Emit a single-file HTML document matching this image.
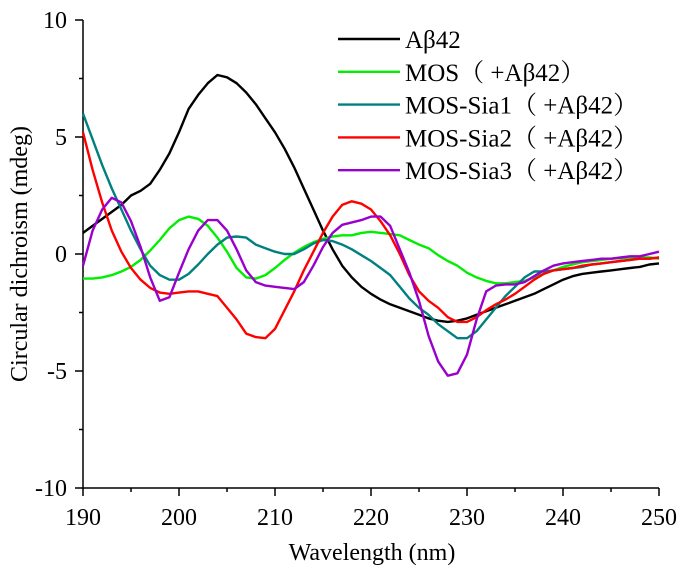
<!DOCTYPE html>
<html><head><meta charset="utf-8"><style>
body{margin:0;background:#fff}
svg text{font-family:"Liberation Serif","Noto Serif CJK SC",serif;fill:#000}
</style></head><body>
<svg id="c" width="686" height="578" xmlns="http://www.w3.org/2000/svg" font-family="'Liberation Serif', 'Noto Serif CJK SC', serif"></svg>
<script>
const wavelengths=[];for(let w=190;w<=250;w++)wavelengths.push(w);
const ab42=[0.9,1.2,1.5,1.8,2.1,2.5,2.7,3.0,3.6,4.3,5.2,6.2,6.8,7.3,7.65,7.55,7.3,6.9,6.4,5.8,5.2,4.5,3.7,2.8,1.9,1.0,0.2,-0.5,-1.0,-1.4,-1.7,-1.95,-2.15,-2.3,-2.45,-2.6,-2.75,-2.85,-2.9,-2.85,-2.75,-2.6,-2.45,-2.3,-2.15,-2.0,-1.85,-1.7,-1.5,-1.3,-1.1,-0.95,-0.85,-0.8,-0.75,-0.7,-0.65,-0.6,-0.55,-0.45,-0.4];
const mos=[-1.05,-1.05,-1.0,-0.9,-0.75,-0.55,-0.25,0.15,0.6,1.1,1.45,1.6,1.5,1.2,0.7,0.1,-0.6,-1.0,-1.05,-0.9,-0.6,-0.25,0.05,0.3,0.5,0.65,0.75,0.8,0.8,0.9,0.95,0.9,0.85,0.8,0.6,0.4,0.25,-0.05,-0.3,-0.5,-0.8,-1.0,-1.15,-1.25,-1.25,-1.2,-1.15,-1.0,-0.85,-0.7,-0.55,-0.45,-0.35,-0.3,-0.25,-0.2,-0.18,-0.15,-0.15,-0.15,-0.2];
const sia1=[6.0,4.9,3.8,2.8,1.9,1.0,0.2,-0.5,-0.9,-1.1,-1.1,-0.85,-0.45,0.0,0.4,0.7,0.75,0.7,0.4,0.25,0.1,0.0,0.0,0.2,0.45,0.6,0.55,0.4,0.2,-0.05,-0.3,-0.6,-0.9,-1.4,-1.9,-2.3,-2.6,-3.0,-3.3,-3.6,-3.6,-3.3,-2.8,-2.3,-1.8,-1.4,-1.0,-0.75,-0.75,-0.7,-0.65,-0.6,-0.55,-0.45,-0.4,-0.35,-0.3,-0.25,-0.2,-0.2,-0.15];
const sia2=[5.2,3.6,2.2,1.0,0.1,-0.6,-1.1,-1.45,-1.65,-1.7,-1.65,-1.6,-1.6,-1.7,-1.8,-2.3,-2.8,-3.4,-3.55,-3.6,-3.2,-2.4,-1.6,-0.7,0.1,0.9,1.6,2.1,2.25,2.15,1.9,1.4,0.8,0.0,-0.9,-1.6,-2.0,-2.3,-2.7,-2.9,-2.9,-2.7,-2.4,-2.15,-1.95,-1.7,-1.4,-1.1,-0.85,-0.7,-0.65,-0.6,-0.5,-0.45,-0.4,-0.35,-0.3,-0.25,-0.2,-0.2,-0.15];
const sia3=[-0.5,1.0,1.9,2.4,2.2,1.4,0.3,-1.0,-2.0,-1.85,-0.8,0.2,1.0,1.45,1.45,1.0,0.2,-0.7,-1.2,-1.35,-1.4,-1.45,-1.5,-1.2,-0.5,0.3,0.9,1.25,1.35,1.45,1.6,1.6,1.2,0.2,-0.8,-2.0,-3.5,-4.6,-5.2,-5.1,-4.3,-2.8,-1.6,-1.35,-1.3,-1.3,-1.2,-0.95,-0.7,-0.5,-0.4,-0.35,-0.3,-0.25,-0.2,-0.2,-0.15,-0.1,-0.1,0.0,0.1];
const xTicks=[190,200,210,220,230,240,250];
const xMinor=[195,205,215,225,235,245];
const yTicks=[-10,-5,0,5,10];
const yMinor=[-7.5,-2.5,2.5,7.5];
const seriesNames=["Aβ42","MOS（ +Aβ42）","MOS-Sia1（ +Aβ42）","MOS-Sia2（ +Aβ42）","MOS-Sia3（ +Aβ42）"];
const series=[ab42,mos,sia1,sia2,sia3];
const colors=["#000000","#00ee00","#008080","#ff0000","#9900cc"];
const X0=83,X1=659,Y0=488,Y1=20;
const FF="'Liberation Serif', 'Noto Serif CJK SC', serif";
const sx=v=>X0+(v-190)/60*(X1-X0);
const sy=v=>Y0-(v+10)/20*(Y0-Y1);
const svg=document.getElementById('c');
const NS="http://www.w3.org/2000/svg";
function mk(t,a,txt){const e=document.createElementNS(NS,t);for(const k in a)e.setAttribute(k,a[k]);if(txt!==undefined){e.textContent=txt;e.setAttribute('font-family',FF);}svg.appendChild(e);return e;}
let e;
e=mk('line',{x1:X0,y1:Y1,x2:X0,y2:Y0+1,stroke:'#000','stroke-width':1.5});


e=mk('line',{x1:X0,y1:Y0,x2:X1,y2:Y0,stroke:'#000','stroke-width':1.5});


xTicks.forEach(t=>{
 e=mk('line',{x1:sx(t),y1:Y0,x2:sx(t),y2:Y0+8,stroke:'#000','stroke-width':1.5});
 
 
 e=mk('text',{x:sx(t),y:Y0+37,'text-anchor':'middle','font-size':24},t);
 
 
});
xMinor.forEach(t=>{
 e=mk('line',{x1:sx(t),y1:Y0,x2:sx(t),y2:Y0+4,stroke:'#000','stroke-width':1.5});
 
 
});
yTicks.forEach(t=>{
 e=mk('line',{x1:X0-8,y1:sy(t),x2:X0,y2:sy(t),stroke:'#000','stroke-width':1.5});
 
 
 e=mk('text',{x:X0-16,y:sy(t)+8,'text-anchor':'end','font-size':24},t);
 
 
});
yMinor.forEach(t=>{
 e=mk('line',{x1:X0-4,y1:sy(t),x2:X0,y2:sy(t),stroke:'#000','stroke-width':1.5});
 
 
});
e=mk('text',{x:372,y:560,'text-anchor':'middle','font-size':24},'Wavelength (nm)');


e=mk('text',{x:0,y:0,'text-anchor':'middle','font-size':24,transform:'translate(27,254) rotate(-90)'},'Circular dichroism (mdeg)');


series.forEach((s,i)=>{
 const d=s.map((v,j)=>(j?'L':'M')+sx(wavelengths[j]).toFixed(1)+','+sy(v).toFixed(1)).join('');
 e=mk('path',{d:d,fill:'none',stroke:colors[i],'stroke-width':2.4,'stroke-linejoin':'round'});
 
 
 const ly=39+i*32.8;
 e=mk('line',{x1:338,y1:ly,x2:400,y2:ly,stroke:colors[i],'stroke-width':2.4});
 
 
 e=mk('text',{x:405,y:ly+9,'font-size':25},seriesNames[i]);
 
 
});
</script>
</body></html>
